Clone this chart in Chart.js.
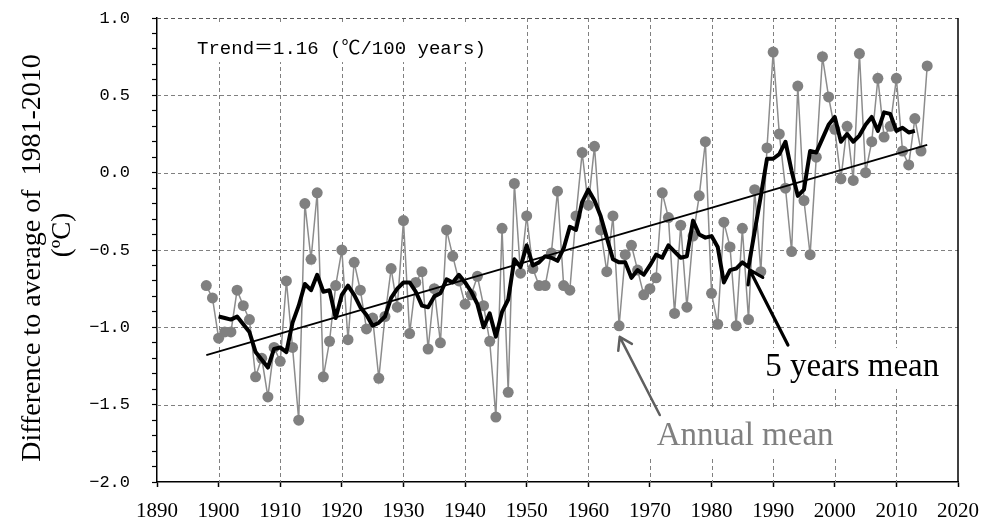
<!DOCTYPE html>
<html lang="en">
<head>
  <meta charset="UTF-8" />
  <title>Temperature anomaly 1898-2015</title>
  <script src="https://cdn.jsdelivr.net/npm/chart.js"></script>
  <style>
    html, body { margin: 0; padding: 0; background: #fff; }
    #wrap { width: 983px; height: 519px; }
  </style>
</head>
<body>
<div id="wrap"><canvas id="chart" width="983" height="519"></canvas></div>
<script>
// annual mean anomaly, one value per year from 1898
const annualStart = 1898;
const annualMean = [
  -0.73, -0.81, -1.07, -1.03, -1.03, -0.76, -0.86, -0.95, -1.32, -1.20,
  -1.45, -1.13, -1.22, -0.70, -1.13, -1.60, -0.20, -0.56, -0.13, -1.32,
  -1.09, -0.73, -0.50, -1.08, -0.58, -0.76, -1.01, -0.94, -1.33, -0.93,
  -0.62, -0.87, -0.31, -1.04, -0.71, -0.64, -1.14, -0.75, -1.10, -0.37,
  -0.54, -0.70, -0.85, -0.79, -0.67, -0.86, -1.09, -1.58, -0.36, -1.42,
  -0.07, -0.65, -0.28, -0.62, -0.73, -0.73, -0.52, -0.12, -0.73, -0.76,
  -0.28,  0.13, -0.21,  0.17, -0.37, -0.64, -0.28, -0.99, -0.53, -0.47,
  -0.63, -0.79, -0.75, -0.68, -0.13, -0.29, -0.91, -0.34, -0.87, -0.41,
  -0.15,  0.20, -0.78, -0.98, -0.32, -0.48, -0.99, -0.36, -0.95, -0.11,
  -0.64,  0.16,  0.78,  0.25, -0.10, -0.51,  0.56, -0.18, -0.53,  0.10,
   0.75,  0.49,  0.28, -0.04,  0.30, -0.05,  0.77,  0.00,  0.20,  0.61,
   0.23,  0.30,  0.61,  0.14,  0.05,  0.35,  0.14,  0.69
];

// 5 years running mean, from 1900
const meanStart = 1900;
const fiveYearMean = [
  -0.93, -0.94, -0.95, -0.93, -0.98, -1.03, -1.16, -1.21, -1.26, -1.14,
  -1.13, -1.16, -0.97, -0.86, -0.72, -0.76, -0.66, -0.77, -0.76, -0.94,
  -0.79, -0.73, -0.79, -0.87, -0.92, -0.99, -0.97, -0.93, -0.81, -0.75,
  -0.71, -0.71, -0.77, -0.86, -0.87, -0.80, -0.78, -0.69, -0.71, -0.66,
  -0.71, -0.77, -0.85, -1.00, -0.91, -1.06, -0.90, -0.82, -0.56, -0.61,
  -0.47, -0.60, -0.58, -0.54, -0.55, -0.57, -0.49, -0.35, -0.37, -0.19,
  -0.11, -0.18, -0.28, -0.42, -0.56, -0.58, -0.58, -0.68, -0.63, -0.66,
  -0.60, -0.53, -0.55, -0.47, -0.51, -0.55, -0.54, -0.31, -0.40, -0.42,
  -0.41, -0.48, -0.71, -0.63, -0.62, -0.58, -0.61, -0.38, -0.15,  0.09,
   0.09,  0.12,  0.20,  0.01, -0.15, -0.11,  0.14,  0.13,  0.22,  0.31,
   0.36,  0.20,  0.25,  0.20,  0.24,  0.31,  0.36,  0.27,  0.39,  0.38,
   0.27,  0.29,  0.26,  0.27
];

// linear trend end points
const trendYears = [1898, 2015];
const trendValues = [-1.18, 0.18];

// axes
const xRange = [1890, 2020];
const yRange = [-2.0, 1.0];
const yTitle = ['Difference to average of  1981-2010', '(ºC)'];

// notes placed in data units
const trendNote = { text: 'Trend＝1.16 (℃/100 years)', x: 1896.5, y: 0.767 };
const meanNote = { text: '5 years mean', x: 1988.7, y: -1.315 };
const annualNote = { text: 'Annual mean', x: 1971.1, y: -1.76 };
const meanArrow = { from: [1992.4, -1.114], to: [1986.2, -0.629] };
const annualArrow = { from: [1971.6, -1.567], to: [1965.1, -1.062] };

const serif = "'Liberation Serif', 'Times New Roman', serif";
const mono = "'Liberation Mono', 'Noto Sans CJK SC', monospace";

function isHalf(v) {
  return Math.round(v * 10) % 5 === 0;
}

function drawArrow(ctx, x1, y1, x2, y2, color, width, head) {
  const a = Math.atan2(y2 - y1, x2 - x1);
  ctx.save();
  ctx.strokeStyle = color;
  ctx.lineWidth = width;
  ctx.lineCap = 'round';
  ctx.lineJoin = 'round';
  ctx.beginPath();
  ctx.moveTo(x1, y1);
  ctx.lineTo(x2, y2);
  ctx.moveTo(x2 - head * Math.cos(a - 0.58), y2 - head * Math.sin(a - 0.58));
  ctx.lineTo(x2, y2);
  ctx.lineTo(x2 - head * Math.cos(a + 0.58), y2 - head * Math.sin(a + 0.58));
  ctx.stroke();
  ctx.restore();
}

// white box behind a note, so the grid stops around the text
function noteBox(ctx, note, font, padX, padTop, padBottom, sx, sy) {
  ctx.font = font;
  const w = ctx.measureText(note.text).width;
  const px = sx.getPixelForValue(note.x);
  const py = sy.getPixelForValue(note.y);
  ctx.fillStyle = '#fff';
  ctx.fillRect(px - padX, py - padTop, w + 2 * padX, padTop + padBottom);
}

// dashed grid drawn here, so the dash and the colours are fully ours
function dashedGrid(chart) {
  const { ctx, chartArea: a, scales: { x, y } } = chart;
  ctx.save();
  ctx.lineWidth = 1;
  ctx.setLineDash([4, 3]);
  x.ticks.forEach(t => {
    if (t.value <= xRange[0] || t.value >= xRange[1]) return;
    const px = Math.round(x.getPixelForValue(t.value)) + 0.5;
    ctx.strokeStyle = '#808080';
    ctx.beginPath();
    ctx.moveTo(px, a.top);
    ctx.lineTo(px, a.bottom);
    ctx.stroke();
  });
  y.ticks.forEach(t => {
    if (!isHalf(t.value) || t.value <= yRange[0] + 1e-6) return;
    const py = Math.round(y.getPixelForValue(t.value)) + 0.5;
    ctx.strokeStyle = Math.abs(t.value - yRange[1]) < 1e-6 ? '#555' : '#808080';
    ctx.beginPath();
    ctx.moveTo(a.left, py);
    ctx.lineTo(a.right, py);
    ctx.stroke();
  });
  ctx.restore();
}

const notesPlugin = {
  id: 'notes',
  beforeDatasetsDraw(chart) {
    const { ctx, chartArea, scales: { x, y } } = chart;
    dashedGrid(chart);
    ctx.save();
    noteBox(ctx, trendNote, '19px ' + mono, 37, 29, 8, x, y);
    noteBox(ctx, meanNote, '33px ' + serif, 8, 28, 12, x, y);
    noteBox(ctx, annualNote, '33px ' + serif, 8, 35, 14, x, y);
    // solid frame on the right
    ctx.strokeStyle = '#000';
    ctx.lineWidth = 1.5;
    ctx.beginPath();
    ctx.moveTo(chartArea.right, chartArea.top);
    ctx.lineTo(chartArea.right, chartArea.bottom);
    ctx.stroke();
    ctx.restore();
  },
  afterDatasetsDraw(chart) {
    const { ctx, scales: { x, y } } = chart;
    ctx.save();
    ctx.textAlign = 'left';
    ctx.textBaseline = 'alphabetic';
    ctx.fillStyle = '#000';
    ctx.font = '19px ' + mono;
    ctx.fillText(trendNote.text, x.getPixelForValue(trendNote.x), y.getPixelForValue(trendNote.y));
    ctx.font = '33px ' + serif;
    ctx.fillText(meanNote.text, x.getPixelForValue(meanNote.x), y.getPixelForValue(meanNote.y));
    ctx.fillStyle = '#808080';
    ctx.fillText(annualNote.text, x.getPixelForValue(annualNote.x), y.getPixelForValue(annualNote.y));
    ctx.restore();

    drawArrow(ctx,
      x.getPixelForValue(meanArrow.from[0]), y.getPixelForValue(meanArrow.from[1]),
      x.getPixelForValue(meanArrow.to[0]), y.getPixelForValue(meanArrow.to[1]),
      '#000', 3.2, 15);
    drawArrow(ctx,
      x.getPixelForValue(annualArrow.from[0]), y.getPixelForValue(annualArrow.from[1]),
      x.getPixelForValue(annualArrow.to[0]), y.getPixelForValue(annualArrow.to[1]),
      '#5f5f5f', 2.5, 14);
  },
  afterDraw(chart) {
    const { ctx, chartArea } = chart;
    const mid = (chartArea.top + chartArea.bottom) / 2;
    ctx.save();
    ctx.fillStyle = '#000';
    ctx.font = '28px ' + serif;
    ctx.textAlign = 'center';
    ctx.textBaseline = 'middle';
    ctx.translate(33, mid + 8);
    ctx.rotate(-Math.PI / 2);
    ctx.fillText(yTitle[0], 0, 0);
    ctx.restore();
    ctx.save();
    ctx.fillStyle = '#000';
    ctx.font = '27px ' + serif;
    ctx.textAlign = 'center';
    ctx.textBaseline = 'middle';
    ctx.translate(63, mid - 15);
    ctx.rotate(-Math.PI / 2);
    ctx.fillText(yTitle[1], 0, 0);
    ctx.restore();
  }
};

new Chart(document.getElementById('chart'), {
  type: 'line',
  data: {
    datasets: [
      {
        label: '5 years mean',
        data: fiveYearMean.map((v, i) => ({ x: meanStart + i, y: v })),
        borderColor: '#000',
        borderWidth: 4,
        pointRadius: 0,
        borderJoinStyle: 'round',
        order: 0
      },
      {
        label: 'Trend',
        data: trendYears.map((yr, i) => ({ x: yr, y: trendValues[i] })),
        borderColor: '#000',
        borderWidth: 1.8,
        pointRadius: 0,
        order: 1
      },
      {
        label: 'Annual mean',
        data: annualMean.map((v, i) => ({ x: annualStart + i, y: v })),
        borderColor: '#8c8c8c',
        borderWidth: 1.5,
        pointRadius: 5.5,
        pointBackgroundColor: '#808080',
        pointBorderWidth: 0,
        order: 2
      }
    ]
  },
  options: {
    responsive: false,
    animation: false,
    layout: { padding: { top: 18, right: 25, bottom: 0, left: 0 } },
    plugins: { legend: { display: false }, tooltip: { enabled: false } },
    scales: {
      x: {
        type: 'linear',
        min: xRange[0],
        max: xRange[1],
        afterFit(scale) {
          scale.height = 37;
          scale.paddingLeft = 0;
          scale.paddingRight = 0;
        },
        grid: {
          drawOnChartArea: false,
          tickColor: '#000',
          tickLength: 5,
          tickWidth: 1.5
        },
        border: { color: '#000', width: 1.5 },
        ticks: {
          stepSize: 10,
          autoSkip: false,
          maxRotation: 0,
          padding: 12,
          color: '#000',
          font: { family: serif, size: 21 },
          callback: v => String(v)
        }
      },
      y: {
        min: yRange[0],
        max: yRange[1],
        afterFit(scale) {
          scale.width = 157;
          scale.paddingTop = 0;
          scale.paddingBottom = 0;
        },
        grid: {
          drawOnChartArea: false,
          tickColor: '#000',
          tickLength: 5,
          tickWidth: 1.2
        },
        border: { color: '#000', width: 1.5 },
        ticks: {
          stepSize: 0.1,
          autoSkip: false,
          padding: 22,
          color: '#000',
          font: { family: mono, size: 17 },
          callback: v => isHalf(v) ? (Math.round(v * 10) / 10).toFixed(1).replace('-', '−') : ''
        }
      }
    }
  },
  plugins: [notesPlugin]
});
</script>
</body>
</html>
